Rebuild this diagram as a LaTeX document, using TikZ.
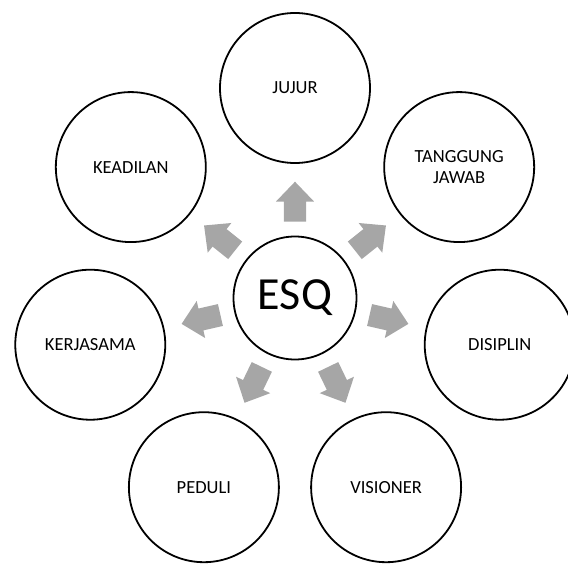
\documentclass[tikz,border=0pt]{standalone}
\usepackage{fontspec}
\setmainfont{Carlito}
\definecolor{arrowgray}{HTML}{A6A6A6}
\begin{document}
\begin{tikzpicture}[x=1pt,y=1pt,
  value/.style={circle, draw=black, line width=1.8pt, minimum size=150pt,
    inner sep=0pt, align=center, font=\fontsize{18.5}{20.5}\selectfont},
  hub/.style={circle, draw=black, line width=1.8pt, minimum size=123pt,
    inner sep=0pt, font=\fontsize{46}{50}\selectfont},
  blockarrow/.style={fill=arrowgray, draw=none}]
\useasboundingbox (-295,-265) rectangle (273,298);
% central value
\node[hub] (esq) at (0,0) {ESQ};
% seven values evenly spaced around the centre
\node[value] (jujur)     at (90:210)      {JUJUR};
\node[value] (tanggung)  at (38.571:210)  {TANGGUNG\\JAWAB};
\node[value] (disiplin)  at (-12.857:210) {DISIPLIN};
\node[value] (visioner)  at (-64.286:210) {VISIONER};
\node[value] (peduli)    at (-115.714:210){PEDULI};
\node[value] (kerjasama) at (-167.143:210){KERJASAMA};
\node[value] (keadilan)  at (141.429:210) {KEADILAN};
% block arrows pointing outward from the centre
\foreach \a in {90, 38.571, -12.857, -64.286, -115.714, -167.143, 141.429}{
  \fill[blockarrow, shift={(esq.center)}, rotate=\a]
    (76.5,-11.2) -- (96.5,-11.2) -- (96.5,-19) -- (116.3,0)
    -- (96.5,19) -- (96.5,11.2) -- (76.5,11.2) -- cycle;
}
\end{tikzpicture}
\end{document}
